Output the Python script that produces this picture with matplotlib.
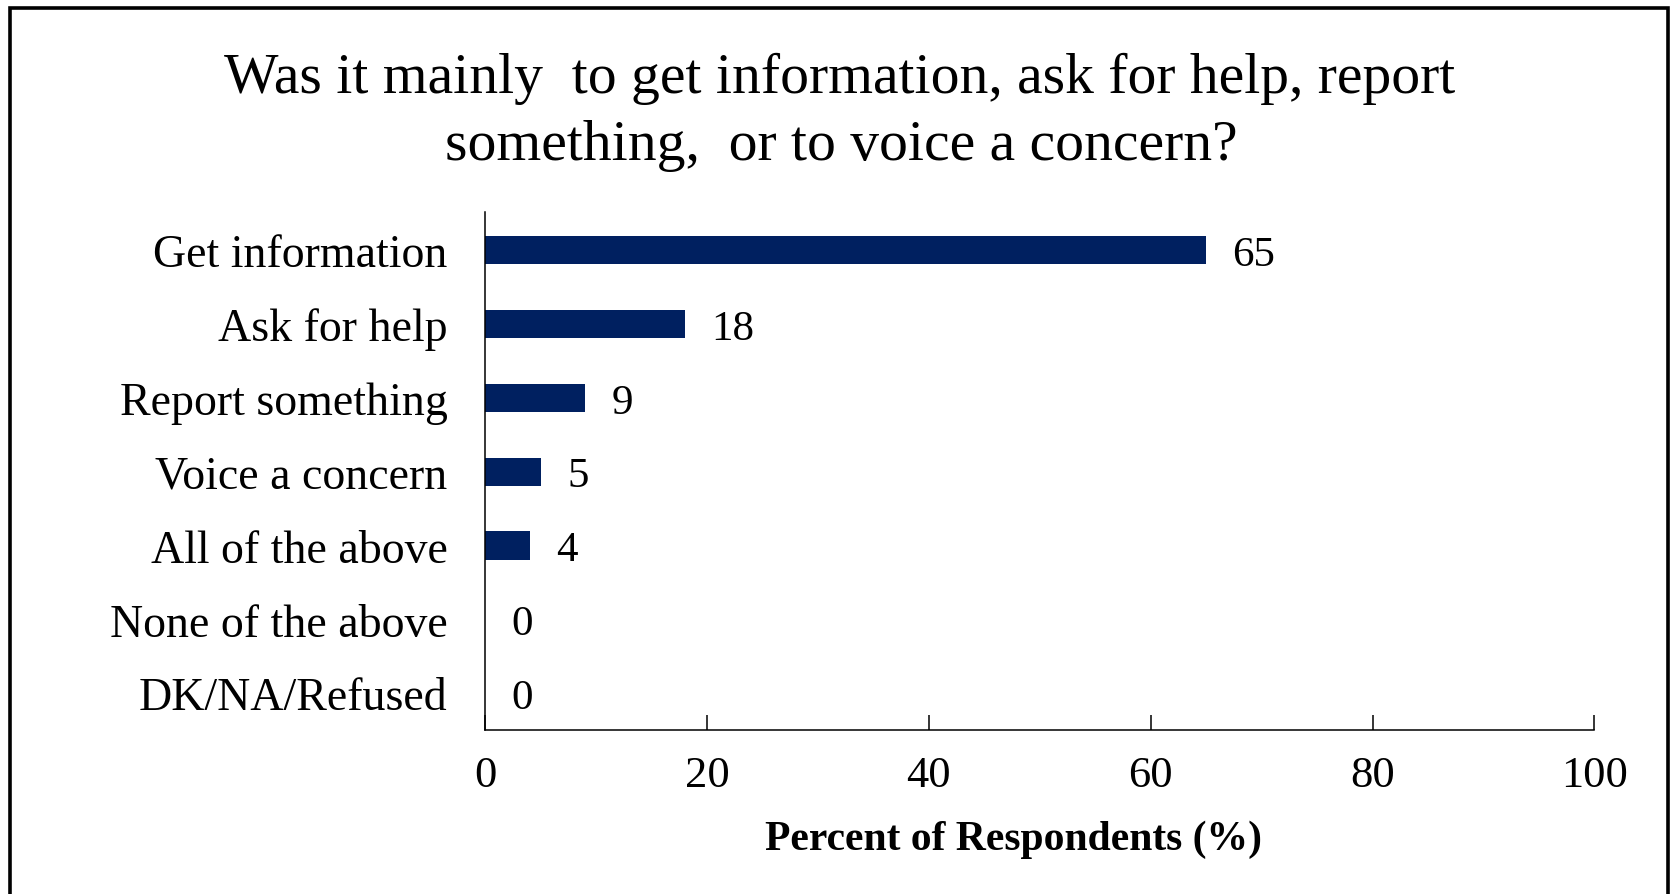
import numpy as np
import matplotlib
matplotlib.use('Agg')
import matplotlib.pyplot as plt
from matplotlib.patches import Rectangle

# data
categories = ['Get information', 'Ask for help', 'Report something', 'Voice a concern',
              'All of the above', 'None of the above', 'DK/NA/Refused']
percents = [65, 18, 9, 5, 4, 0, 0]
xticks = [0, 20, 40, 60, 80, 100]
title_lines = ['Was it mainly  to get information, ask for help, report',
               'something,  or to voice a concern?']

plt.rcParams['font.family'] = ['Liberation Serif', 'DejaVu Serif']

fig = plt.figure(figsize=(16.73, 8.95), dpi=100)
ax = fig.add_axes([0.290, 0.1832, 0.663, 0.579])

ypos = np.arange(len(categories))
ax.barh(ypos, percents, height=0.38, color='#002060')

for y, v in zip(ypos, percents):
    ax.annotate(str(v), xy=(v, y), xytext=(19, 0), textcoords='offset points',
                va='center_baseline', ha='left', fontsize=31)

ax.set_xlim(0, 100)
ax.set_ylim(6.5, -0.52)
ax.set_yticks(ypos)
ax.set_yticklabels(categories, fontsize=33)
ax.set_xticks(xticks)
ax.set_xticklabels([str(t) for t in xticks], fontsize=32)
ax.tick_params(axis='y', length=0, pad=27)
ax.tick_params(axis='x', direction='in', length=11, width=1.1, pad=18)

for s in ['top', 'right']:
    ax.spines[s].set_visible(False)
for s in ['left', 'bottom']:
    ax.spines[s].set_linewidth(1.1)
    ax.spines[s].set_color('black')

ax.set_xlabel('Percent of Respondents (%)', fontsize=30, fontweight='bold')
ax.xaxis.set_label_coords(0.476, -0.172)

# title as two centred lines
fig.text(0.502, 1 - 79 / 895, title_lines[0], ha='center', va='center', fontsize=41.5)
fig.text(0.503, 1 - 146 / 895, title_lines[1], ha='center', va='center', fontsize=41.5)

# outer frame
fig.patches.append(Rectangle((10 / 1673, -0.05), 1658 / 1673, 1.05 - 9 / 895,
                             transform=fig.transFigure, fill=False,
                             edgecolor='black', linewidth=2.6))

fig.savefig('out.png', dpi=100)
